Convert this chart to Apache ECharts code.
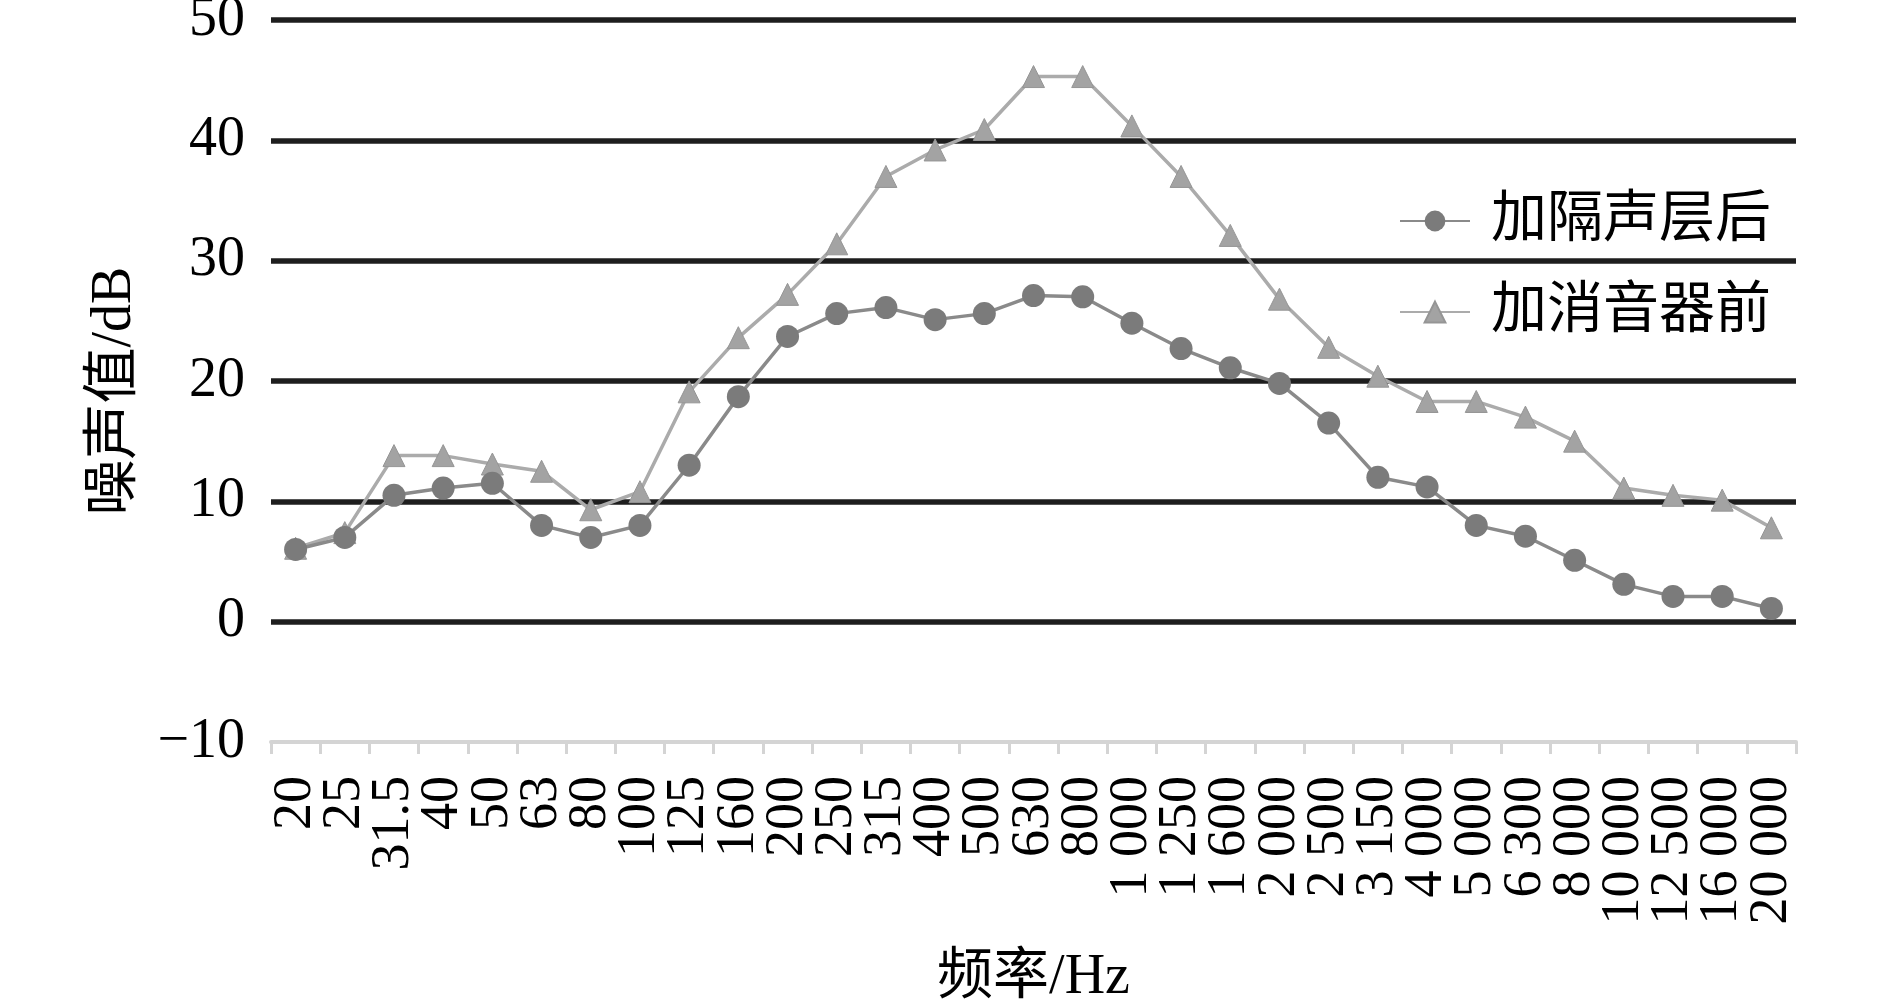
<!DOCTYPE html>
<html>
<head>
<meta charset="utf-8">
<script src="https://cdn.jsdelivr.net/npm/echarts@6/dist/echarts.min.js"></script>
<style>
  html, body { margin: 0; padding: 0; background: #fff; }
  #main { width: 1890px; height: 1006px; }
</style>
</head>
<body>
<div id="main"></div>
<script>
// 频率 (Hz)
var freqs = ['20', '25', '31.5', '40', '50', '63', '80', '100', '125', '160', '200', '250', '315', '400', '500', '630', '800',
  '1 000', '1 250', '1 600', '2 000', '2 500', '3 150', '4 000', '5 000', '6 300', '8 000', '10 000', '12 500', '16 000', '20 000']
// 加隔声层后
var afterLayer = [6.0, 7.0, 10.5, 11.1, 11.5, 8.0, 7.0, 8.0, 13.0, 18.7, 23.7, 25.6, 26.1, 25.1, 25.6, 27.1, 27.0,
  24.8, 22.7, 21.1, 19.8, 16.5, 12.0, 11.2, 8.0, 7.1, 5.1, 3.1, 2.1, 2.1, 1.1]
// 加消音器前
var beforeMuffler = [6.1, 7.4, 13.8, 13.8, 13.1, 12.5, 9.3, 10.8, 19.1, 23.6, 27.2, 31.4, 37.0, 39.2, 40.9, 45.3, 45.3,
  41.2, 37.0, 32.1, 26.8, 22.8, 20.4, 18.3, 18.3, 17.0, 15.0, 11.1, 10.5, 10.1, 7.8]
var yMin = -10, yMax = 50, yStep = 10

var font = "'Liberation Serif', 'Noto Sans CJK SC', serif"
var chart = echarts.init(document.getElementById('main'))
chart.setOption({
  animation: false,
  textStyle: { fontFamily: font },
  grid: { left: 271, right: 94, top: 20, bottom: 264, outerBoundsMode: 'none' },
  legend: {
    orient: 'vertical',
    left: 1394,
    top: 186,
    itemWidth: 70,
    itemHeight: 26,
    itemGap: 31,
    textStyle: { fontFamily: font, fontSize: 56, color: '#000', lineHeight: 60, padding: [0, 0, 0, 16] },
    data: ['加隔声层后', '加消音器前']
  },
  xAxis: {
    type: 'category',
    data: freqs,
    boundaryGap: true,
    name: '频率/Hz',
    nameLocation: 'middle',
    nameGap: 208,
    nameTextStyle: { fontFamily: font, fontSize: 56, color: '#000' },
    axisLine: { onZero: false, lineStyle: { color: '#d4d4d4', width: 4 } },
    axisTick: { show: true, length: 12, lineStyle: { color: '#d4d4d4', width: 3 } },
    axisLabel: { rotate: 90, margin: 34, interval: 0, fontFamily: font, fontSize: 54, color: '#000' }
  },
  yAxis: {
    type: 'value',
    min: yMin,
    max: yMax,
    interval: yStep,
    name: '噪声值/dB',
    nameLocation: 'middle',
    nameGap: 128,
    nameTextStyle: { fontFamily: font, fontSize: 56, color: '#000', padding: [0, 20, 0, 0] },
    axisLine: { show: false },
    axisTick: { show: false },
    axisLabel: {
      margin: 26, fontFamily: font, fontSize: 56, color: '#000',
      formatter: function (v) { return String(v).replace('-', '\u2212') }
    },
    splitLine: { show: true, showMinLine: false, lineStyle: { color: '#1e1e1e', width: 5.5 } }
  },
  series: [
    {
      name: '加隔声层后',
      type: 'line',
      data: afterLayer,
      symbol: 'circle',
      symbolSize: 23,
      lineStyle: { color: '#8a8a8a', width: 3.5 },
      itemStyle: { color: '#7b7b7b' },
      z: 3
    },
    {
      name: '加消音器前',
      type: 'line',
      data: beforeMuffler,
      symbol: 'triangle',
      symbolSize: 22,
      lineStyle: { color: '#ababab', width: 3.5 },
      itemStyle: { color: '#a3a3a3', borderColor: '#959595', borderWidth: 1 },
      z: 2
    }
  ]
})
</script>
</body>
</html>
